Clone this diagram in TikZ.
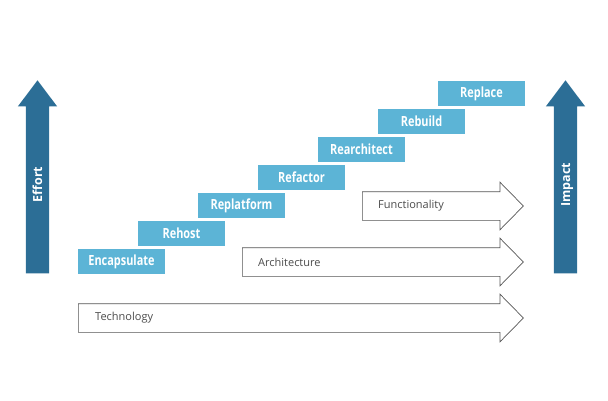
\documentclass[tikz,border=0pt]{standalone}
\usepackage{fontspec}
\setmainfont{Open Sans}
\newfontfamily\stepfont[FakeStretch=0.78]{Open Sans}
\usepackage{xcolor}
\usepackage{tikz}
\usetikzlibrary{positioning, shapes.arrows}
\definecolor{stepblue}{RGB}{92,180,214}
\definecolor{axisblue}{RGB}{44,110,150}
\definecolor{outlinegray}{RGB}{85,85,85}
\tikzset{
  stepbox/.style={
    rectangle,
    fill=stepblue,
    minimum width=87pt,
    minimum height=25pt,
    inner sep=0pt,
    text=white,
    font=\stepfont\bfseries\fontsize{14}{16}\selectfont
  },
  axisarrow/.style={
    single arrow,
    fill=axisblue,
    rotate=90,
    anchor=tip,
    minimum height=193pt,
    minimum width=39pt,
    single arrow head extend=8pt,
    single arrow tip angle=74,
    inner xsep=0pt,
    inner ysep=7pt,
    text height=9pt,
    text depth=0pt,
    text=white,
    font=\bfseries\fontsize{12.5}{14}\selectfont
  },
  layerarrow/.style={
    single arrow,
    draw=outlinegray,
    line width=0.7pt,
    fill=white,
    anchor=west,
    minimum width=47pt,
    single arrow head extend=9.5pt,
    single arrow tip angle=91,
    inner xsep=0pt,
    inner ysep=14pt
  },
  layerlabel/.style={
    anchor=west,
    inner sep=0pt,
    text=outlinegray!90!black,
    font=\fontsize{11}{13}\selectfont
  }
}
\begin{document}
\begin{tikzpicture}[x=1pt, y=1pt]
  \useasboundingbox (0,0) rectangle (608,400);
  \node[axisarrow] (effort) at (37.5,320) {Effort};
  \node[axisarrow] (impact) at (565.5,320) {Impact};
  \node[stepbox] (encapsulate) at (121.5,138.5) {Encapsulate};
  \node[stepbox] (rehost) at (181.5,166.5) {Rehost};
  \node[stepbox] (replatform) at (241.5,194.5) {Replatform};
  \node[stepbox] (refactor) at (301.5,222.5) {Refactor};
  \node[stepbox] (rearchitect) at (361.5,250.5) {Rearchitect};
  \node[stepbox] (rebuild) at (421.5,278.5) {Rebuild};
  \node[stepbox] (replace) at (481.5,306.5) {Replace};
  \node[layerarrow, minimum height=161pt] (functionality) at (362,194) {};
  \node[layerarrow, minimum height=281pt] (architecture) at (242,138) {};
  \node[layerarrow, minimum height=445pt] (technology) at (78,82) {};
  \node[layerlabel, right=16pt of functionality.west] (functext) {Functionality};
  \node[layerlabel, right=16pt of architecture.west] (archtext) {Architecture};
  \node[layerlabel, right=17pt of technology.west] (techtext) {Technology};
\end{tikzpicture}
\end{document}
